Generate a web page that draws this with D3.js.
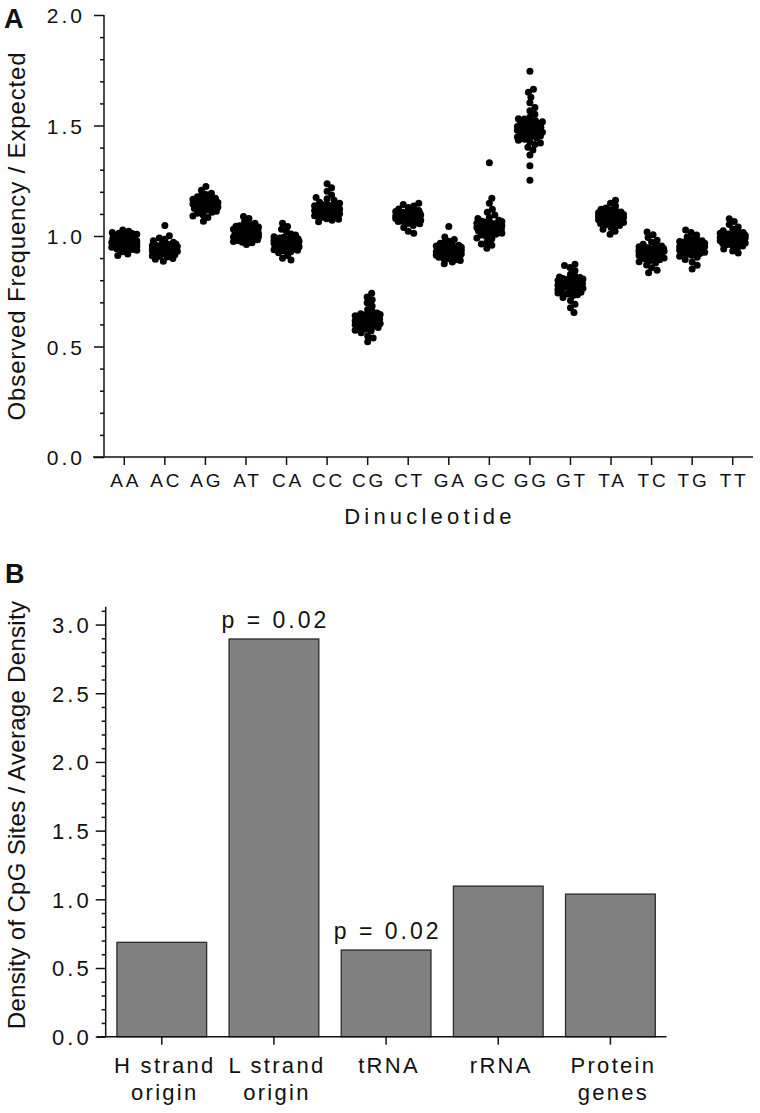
<!DOCTYPE html>
<html><head><meta charset="utf-8">
<script src="https://cdn.jsdelivr.net/npm/d3@7"></script>
<style>
body{margin:0;background:#fff;}
svg{display:block;}
text{font-family:"Liberation Sans",Arial,Helvetica,sans-serif;fill:#111;}
</style>
</head><body>
<svg id="c" width="760" height="1113"></svg>
<script>
// ---------- Panel A data ----------
const dinucleotides = ["AA","AC","AG","AT","CA","CC","CG","CT","GA","GC","GG","GT","TA","TC","TG","TT"];
const AA=[0.975,0.982,0.968,0.991,1.004,0.955,0.947,0.986,1.012,0.962,0.978,0.939,0.995,1.021,0.958,0.971,0.984,0.929,1.008,0.966,0.949,0.989,0.997,0.942,0.973,1.016,0.961,0.935,0.981,1.027,0.953,0.969,0.999,0.944,0.918,0.987,0.976,1.002,0.959,0.965,0.993,0.951,0.979,0.912,1.011];
const AC=[0.941,0.952,0.928,0.963,0.935,0.918,0.946,0.972,0.905,0.957,0.931,0.939,0.985,0.922,0.949,0.911,0.967,0.934,0.898,0.953,0.926,0.944,0.991,0.915,0.937,0.959,0.886,0.948,0.921,0.962,0.978,0.932,0.908,0.955,0.943,0.924,1.001,0.938,0.917,0.951,1.048,0.929,0.964,0.895,0.947];
const AG=[1.142,1.128,1.156,1.117,1.163,1.135,1.149,1.108,1.171,1.124,1.138,1.189,1.096,1.152,1.131,1.166,1.112,1.145,1.178,1.121,1.139,1.084,1.158,1.127,1.193,1.147,1.103,1.134,1.168,1.119,1.151,1.207,1.136,1.091,1.159,1.126,1.174,1.143,1.067,1.132,1.182,1.114,1.154,1.224,1.129];
const AT=[1.012,1.004,1.025,0.993,1.018,1.037,0.986,1.009,1.046,0.998,1.021,0.979,1.031,1.014,0.969,1.006,1.052,0.991,1.027,1.002,0.975,1.041,1.016,0.983,1.063,1.008,0.995,1.034,0.962,1.019,1.079,1.001,0.988,1.029,1.011,0.972,1.044,1.023,0.997,1.058,1.005,0.981,1.036,1.088,1.015];
const CA=[0.972,0.961,0.985,0.948,0.993,0.966,0.979,0.941,1.004,0.955,0.976,0.932,0.988,0.969,1.018,0.951,0.983,0.924,0.997,0.963,0.946,1.031,0.974,0.938,0.991,0.958,0.912,0.981,0.967,1.009,0.943,0.978,0.899,0.987,0.953,1.043,0.971,0.935,0.995,0.959,1.058,0.928,0.982,0.964,0.891];
const CC=[1.118,1.105,1.132,1.097,1.141,1.112,1.126,1.089,1.153,1.101,1.122,1.078,1.137,1.115,1.168,1.094,1.129,1.071,1.148,1.109,1.185,1.085,1.124,1.139,1.099,1.202,1.113,1.076,1.135,1.121,1.162,1.092,1.128,1.064,1.144,1.107,1.218,1.117,1.082,1.131,1.174,1.103,1.236,1.125,1.111];
const CG=[0.621,0.608,0.635,0.597,0.644,0.613,0.628,0.589,0.652,0.604,0.625,0.578,0.639,0.617,0.667,0.593,0.631,0.571,0.648,0.611,0.683,0.586,0.624,0.641,0.598,0.698,0.614,0.562,0.636,0.619,0.659,0.582,0.627,0.548,0.645,0.606,0.712,0.618,0.574,0.633,0.724,0.601,0.538,0.629,0.741,0.522];
const CT=[1.092,1.083,1.101,1.074,1.108,1.088,1.097,1.066,1.115,1.079,1.094,1.057,1.104,1.086,1.122,1.071,1.099,1.048,1.111,1.082,1.129,1.063,1.095,1.106,1.077,1.136,1.089,1.039,1.102,1.091,1.118,1.068,1.096,1.021,1.109,1.084,1.142,1.093,1.055,1.105,1.012,1.087,1.113,1.075,1.148];
const GA=[0.932,0.921,0.945,0.912,0.951,0.927,0.939,0.904,0.958,0.918,0.935,0.897,0.948,0.929,0.967,0.909,0.941,0.889,0.955,0.924,0.976,0.901,0.937,0.949,0.915,0.984,0.928,0.882,0.943,0.933,0.962,0.906,0.938,0.875,0.952,0.919,0.995,0.931,0.893,0.946,1.043,0.923,0.913,0.936,0.971];
const GC=[1.042,1.028,1.055,1.017,1.063,1.035,1.049,1.008,1.071,1.024,1.046,0.998,1.058,1.037,1.084,1.012,1.051,0.987,1.067,1.031,1.095,1.004,1.044,1.061,1.021,1.108,1.039,0.972,1.053,1.033,1.079,1.015,1.047,0.958,1.066,1.026,1.121,1.041,0.991,1.057,1.148,1.019,1.171,0.945,1.332,1.036,1.002,0.964];
const GG=[1.482,1.463,1.497,1.451,1.512,1.474,1.489,1.438,1.523,1.457,1.478,1.426,1.505,1.469,1.538,1.445,1.493,1.414,1.517,1.466,1.551,1.433,1.486,1.529,1.452,1.567,1.471,1.402,1.501,1.484,1.582,1.441,1.495,1.389,1.508,1.459,1.603,1.476,1.421,1.514,1.628,1.448,1.651,1.367,1.664,1.318,1.252,1.746,1.531,1.468];
const GT=[0.782,0.768,0.795,0.757,0.804,0.773,0.788,0.749,0.812,0.764,0.785,0.738,0.799,0.777,0.827,0.753,0.791,0.731,0.808,0.771,0.843,0.746,0.784,0.801,0.758,0.858,0.774,0.722,0.796,0.779,0.819,0.742,0.787,0.708,0.805,0.766,0.872,0.778,0.734,0.793,0.691,0.761,0.867,0.675,0.654,0.815];
const TA=[1.082,1.071,1.093,1.064,1.101,1.076,1.088,1.056,1.109,1.068,1.085,1.047,1.097,1.079,1.118,1.061,1.091,1.039,1.105,1.073,1.127,1.052,1.087,1.099,1.066,1.136,1.078,1.031,1.094,1.083,1.113,1.058,1.089,1.021,1.103,1.075,1.148,1.081,1.044,1.096,1.162,1.069,1.008,1.086,1.121];
const TC=[0.928,0.917,0.939,0.906,0.947,0.921,0.934,0.898,0.955,0.912,0.931,0.889,0.942,0.924,0.963,0.901,0.937,0.878,0.951,0.915,0.972,0.893,0.933,0.945,0.909,0.981,0.926,0.869,0.941,0.929,0.958,0.895,0.936,0.856,0.949,0.914,0.993,0.927,0.884,0.944,1.006,0.903,0.845,0.938,1.018,0.834];
const TG=[0.952,0.941,0.963,0.931,0.971,0.946,0.958,0.922,0.979,0.936,0.955,0.913,0.967,0.948,0.987,0.926,0.961,0.904,0.975,0.939,0.996,0.918,0.957,0.969,0.933,1.005,0.949,0.894,0.965,0.953,0.983,0.921,0.959,0.882,0.973,0.938,1.016,0.951,0.908,0.966,1.027,0.928,0.868,0.962,0.851,0.944];
const TT=[0.992,0.983,1.002,0.974,1.009,0.987,0.998,0.966,1.016,0.979,0.995,0.958,1.005,0.989,1.024,0.971,0.999,0.949,1.013,0.985,1.032,0.962,0.996,1.007,0.977,1.041,0.988,0.941,1.003,0.993,1.021,0.968,0.997,0.932,1.011,0.981,1.052,0.991,0.955,1.006,1.066,0.975,1.078,0.923,1.001];
const obsExp=[AA,AC,AG,AT,CA,CC,CG,CT,GA,GC,GG,GT,TA,TC,TG,TT];
const yTicksA=[0,0.5,1.0,1.5,2.0];

// ---------- Panel B data ----------
const regions=["H strand origin","L strand origin","tRNA","rRNA","Protein genes"];
const regionLabels=[["H strand","origin"],["L strand","origin"],["tRNA"],["rRNA"],["Protein","genes"]];
const cpgDensity=[0.687,2.895,0.631,1.096,1.038];
const pLabels=[null,"p = 0.02","p = 0.02",null,null];
const yTicksB=[0,0.5,1.0,1.5,2.0,2.5,3.0];

const svg=d3.select("#c");
const fmt=d3.format(".1f");
const INK="#111";

function styleAxis(g){
  g.select(".domain").remove();
  g.selectAll(".tick line").attr("stroke",INK).attr("stroke-width",1.5);
}

// beeswarm-style horizontal spreading (deterministic layout)
function swarm(vals,y,d,maxW){
  const pts=[];
  vals.forEach((v,i)=>{
    const py=y(v);
    const near=pts.filter(p=>Math.abs(p.y-py)<d);
    const offs=[0];
    for(let o=0.5;o<=maxW;o+=0.5){ if(i%2){offs.push(-o,o);} else {offs.push(o,-o);} }
    let chosen=null,best=null,bestD=-1;
    for(const o of offs){
      let m=Infinity;
      for(const p of near){ const dd=Math.hypot(p.x-o,p.y-py); if(dd<m)m=dd; }
      if(m>=d){chosen=o;break;}
      if(m>bestD){bestD=m;best=o;}
    }
    if(chosen===null)chosen=best;
    pts.push({x:chosen,y:py,v});
  });
  return pts;
}

// ================= Panel A =================
const xA=d3.scaleBand().domain(dinucleotides).range([104,753]).padding(0);
const yA=d3.scaleLinear().domain([0,2]).range([457,15]);

const gA=svg.append("g");
const minorA=d3.range(0,2.0001,0.1).filter(v=>Math.abs(v*2-Math.round(v*2))>1e-6);
gA.append("g").attr("transform","translate(104,0)")
  .call(d3.axisLeft(yA).tickValues(minorA).tickSize(4).tickFormat(""))
  .call(styleAxis);
const yAxA=gA.append("g").attr("transform","translate(104,0)")
  .call(d3.axisLeft(yA).tickValues(yTicksA).tickSize(10).tickPadding(9).tickFormat(fmt))
  .call(styleAxis);
yAxA.selectAll("text").attr("fill",INK).style("font-size","21px").style("letter-spacing","3px")
  .style("font-family","'Liberation Sans',Arial,sans-serif").attr("dy","0.36em");
gA.append("line").attr("x1",104).attr("x2",104).attr("y1",yA(2)).attr("y2",yA(0)).attr("stroke",INK).attr("stroke-width",1.5);
gA.append("line").attr("x1",93).attr("x2",753).attr("y1",yA(0)).attr("y2",yA(0)).attr("stroke",INK).attr("stroke-width",1.5);
const xAxA=gA.append("g").attr("transform",`translate(0,${yA(0)})`)
  .call(d3.axisBottom(xA).tickSize(8).tickSizeOuter(0))
  .call(styleAxis);
xAxA.selectAll("text").attr("fill",INK).style("font-size","19px").style("letter-spacing","2.7px")
  .style("font-family","'Liberation Sans',Arial,sans-serif")
  .attr("y",30).attr("dy",null).attr("dx","1.35px");

// points
const bw=xA.bandwidth();
dinucleotides.forEach((dn,i)=>{
  const pts=swarm(obsExp[i],yA,5.6,12.5);
  const cx=xA(dn)+bw/2;
  gA.append("g").selectAll("circle").data(pts).join("circle")
    .attr("cx",p=>cx+p.x).attr("cy",p=>p.y).attr("r",3.5).attr("fill","#000");
});

gA.append("text").attr("x",428+2).attr("y",524).attr("text-anchor","middle")
  .style("font-size","22px").style("letter-spacing","4.2px").text("Dinucleotide");
gA.append("text").attr("transform",`translate(25,${(yA(0)+yA(2))/2}) rotate(-90)`)
  .attr("text-anchor","middle").style("font-size","24px").style("letter-spacing","0.85px")
  .text("Observed Frequency / Expected");
gA.append("text").attr("x",4).attr("y",28).style("font-size","27px").style("font-weight","bold").attr("fill","#000").text("A");

// ================= Panel B =================
const xB=d3.scaleBand().domain(regions).range([105.7,666.5]).paddingInner(0.2).paddingOuter(0.1);
const yB=d3.scaleLinear().domain([0,3.13]).range([1036.7,606.7]);
const gB=svg.append("g");

const minorB=d3.range(0,3.13,0.1).filter(v=>Math.abs(v*2-Math.round(v*2))>1e-6);
gB.append("g").attr("transform","translate(105.7,0)")
  .call(d3.axisLeft(yB).tickValues(minorB).tickSize(4).tickFormat(""))
  .call(styleAxis);
const yAxB=gB.append("g").attr("transform","translate(105.7,0)")
  .call(d3.axisLeft(yB).tickValues(yTicksB).tickSize(10).tickPadding(4).tickFormat(fmt))
  .call(styleAxis);
yAxB.selectAll("text").attr("fill",INK).style("font-size","22px").style("letter-spacing","3px")
  .style("font-family","'Liberation Sans',Arial,sans-serif").attr("dy","0.36em");

gB.append("g").selectAll("rect").data(regions).join("rect")
  .attr("x",d=>xB(d)).attr("width",xB.bandwidth())
  .attr("y",(d,i)=>yB(cpgDensity[i])).attr("height",(d,i)=>yB(0)-yB(cpgDensity[i]))
  .attr("fill","#808080").attr("stroke","#2a2a2a").attr("stroke-width",1.3);

gB.append("line").attr("x1",105.7).attr("x2",105.7).attr("y1",yB(3.13)).attr("y2",yB(0)).attr("stroke",INK).attr("stroke-width",1.5);
gB.append("line").attr("x1",97).attr("x2",666.5).attr("y1",yB(0)).attr("y2",yB(0)).attr("stroke",INK).attr("stroke-width",1.5);

gB.append("g").attr("transform",`translate(0,${yB(0)})`)
  .call(d3.axisBottom(xB).tickSize(8).tickSizeOuter(0).tickFormat(""))
  .call(styleAxis);

regions.forEach((r,i)=>{
  const cx=xB(r)+xB.bandwidth()/2;
  regionLabels[i].forEach((line,j)=>{
    gB.append("text").attr("x",cx+3).attr("y",1072.5+j*27.5).attr("text-anchor","middle")
      .style("font-size","22px").style("letter-spacing","2.3px").text(line);
  });
  if(pLabels[i]){
    gB.append("text").attr("x",cx+1.5).attr("y",yB(cpgDensity[i])-11).attr("text-anchor","middle")
      .style("font-size","23px").style("letter-spacing","3px").text(pLabels[i]);
  }
});

gB.append("text").attr("transform",`translate(25,815) rotate(-90)`)
  .attr("text-anchor","middle").style("font-size","24px").style("letter-spacing","0.3px")
  .text("Density of CpG Sites / Average Density");
gB.append("text").attr("x",5).attr("y",583).style("font-size","27px").style("font-weight","bold").attr("fill","#000").text("B");
</script>
</body></html>
